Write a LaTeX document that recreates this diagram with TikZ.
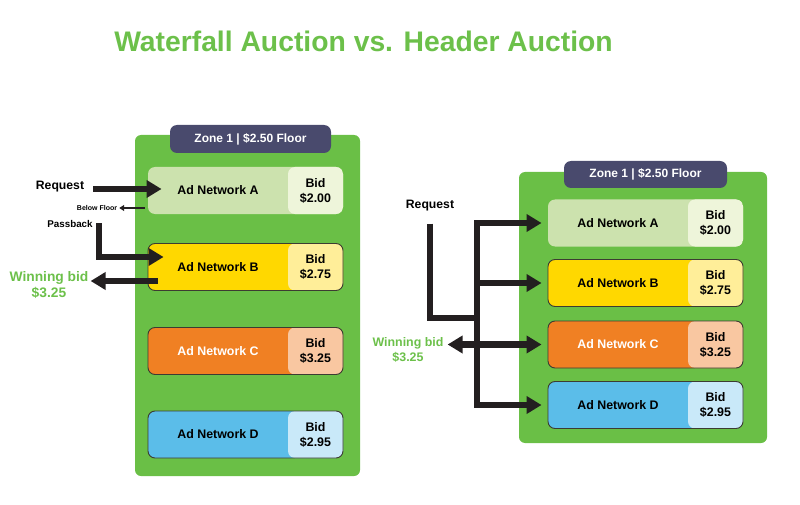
\documentclass[tikz,border=0pt]{standalone}
\usepackage{fontspec}
\setmainfont{Liberation Sans}
\usetikzlibrary{arrows.meta,calc}
\definecolor{ttlgreen}{HTML}{6CC04A}
\definecolor{boxgreen}{HTML}{6ABF46}
\definecolor{navy}{HTML}{494A6D}
\definecolor{aMain}{HTML}{CCE2AE}
\definecolor{aBid}{HTML}{EEF5DA}
\definecolor{bMain}{HTML}{FFD800}
\definecolor{bBid}{HTML}{FFEE99}
\definecolor{cMain}{HTML}{F08023}
\definecolor{cBid}{HTML}{F9C7A1}
\definecolor{dMain}{HTML}{5BBDE9}
\definecolor{dBid}{HTML}{C9E9F9}
\definecolor{ink}{HTML}{231F20}
\definecolor{edgec}{HTML}{3C3C32}
\tikzset{
  container/.style={fill=boxgreen, rounded corners=6pt},
  zonebox/.style={fill=navy, rounded corners=7pt, minimum width=161pt, minimum height=28pt,
    inner sep=0pt, text=white, font=\bfseries\fontsize{12}{14}\selectfont},
  netbox/.style n args={3}{rounded corners=7pt, minimum width=195pt, minimum height=47pt,
    inner sep=0pt, fill=#1, draw=#3, line width=0.9pt,
    path picture={\fill[#2] ([xshift=-55pt]path picture bounding box.north east)
      rectangle (path picture bounding box.south east);}},
  netlbl/.style={inner sep=0pt, font=\bfseries\fontsize{12.4}{15}\selectfont},
  bidlbl/.style={inner sep=0pt, align=center, font=\bfseries\fontsize{12.4}{15}\selectfont},
  sidelbl/.style={inner sep=0pt, font=\bfseries\fontsize{12.2}{15}\selectfont},
  passlbl/.style={inner sep=0pt, font=\bfseries\fontsize{9.8}{12}\selectfont},
  tinylbl/.style={inner sep=0pt, font=\bfseries\fontsize{7}{8}\selectfont},
  winlbl/.style={inner sep=0pt, align=center, text=ttlgreen},
  shaft/.style={draw=ink, line width=6.5pt, line join=miter},
  bigarrow/.style={shaft, -{Triangle[length=15pt,width=17pt]}},
  dblarrow/.style={shaft, {Triangle[length=15pt,width=17pt]}-{Triangle[length=15pt,width=17pt]}},
  smallarrow/.style={draw=ink, line width=2pt, -{Triangle[length=5pt,width=6pt]}},
  titlestyle/.style={inner sep=0pt, text=ttlgreen, font=\bfseries\fontsize{28.3}{34}\selectfont}
}
\begin{document}
\begin{tikzpicture}[x=1pt,y=-1pt]
\useasboundingbox (0,0) rectangle (800,505);
\node[titlestyle, anchor=base] (title) at (363.5,51.5) {Waterfall Auction vs. Header Auction};

% ---------------- Waterfall (left) ----------------
\path[container] (135,135) rectangle (360,476);
\node[zonebox] (zL) at (250.5,139) {Zone 1 | \$2.50 Floor};

\node[netbox={aMain}{aBid}{none}] (LA) at (245.5,190.5) {};
\node[netlbl] (LAt) at ($(LA.center)+(-27.5,0)$) {Ad Network A};
\node[bidlbl] (LAb) at ($(LA.center)+(70,0)$) {Bid\\\$2.00};

\node[netbox={bMain}{bBid}{edgec}] (LB) at (245.5,267) {};
\node[netlbl] (LBt) at ($(LB.center)+(-27.5,0)$) {Ad Network B};
\node[bidlbl] (LBb) at ($(LB.center)+(70,0)$) {Bid\\\$2.75};

\node[netbox={cMain}{cBid}{edgec}] (LC) at (245.5,351) {};
\node[netlbl, text=white] (LCt) at ($(LC.center)+(-27.5,0)$) {Ad Network C};
\node[bidlbl] (LCb) at ($(LC.center)+(70,0)$) {Bid\\\$3.25};

\node[netbox={dMain}{dBid}{edgec}] (LD) at (245.5,434.5) {};
\node[netlbl] (LDt) at ($(LD.center)+(-27.5,0)$) {Ad Network D};
\node[bidlbl] (LDb) at ($(LD.center)+(70,0)$) {Bid\\\$2.95};

\node[sidelbl] (reqL) at (60,187) {Request};
\draw[bigarrow] ($(reqL.east)+(9,2)$) -- ($(LA.west)+(14,-1.5)$);

\node[tinylbl] (bf) at (97,208) {Below Floor};
\draw[smallarrow] ($(LA.west)+(-3,17.5)$) -- ($(bf.east)+(2,0)$);

\node[passlbl] (pb) at (70,224) {Passback};
\draw[bigarrow] ($(pb.east)+(6,-1)$) |- ($(LB.west)+(16,-10)$);

\node[winlbl, font=\bfseries\fontsize{13.8}{16.5}\selectfont] (wL) at (49,285) {Winning bid\\\$3.25};
\draw[bigarrow] ($(LB.west)+(10,14)$) -- ($(wL.east)+(2,-4)$);

% ---------------- Header (right) ----------------
\path[container] (519,172) rectangle (767,443);
\node[zonebox, minimum width=163pt, minimum height=27pt] (zR) at (645.5,174.5) {Zone 1 | \$2.50 Floor};

\node[netbox={aMain}{aBid}{none}] (RA) at (645.5,223) {};
\node[netlbl] (RAt) at ($(RA.center)+(-27.5,0)$) {Ad Network A};
\node[bidlbl] (RAb) at ($(RA.center)+(70,0)$) {Bid\\\$2.00};

\node[netbox={bMain}{bBid}{edgec}] (RB) at (645.5,283) {};
\node[netlbl] (RBt) at ($(RB.center)+(-27.5,0)$) {Ad Network B};
\node[bidlbl] (RBb) at ($(RB.center)+(70,0)$) {Bid\\\$2.75};

\node[netbox={cMain}{cBid}{edgec}] (RC) at (645.5,344.5) {};
\node[netlbl, text=white] (RCt) at ($(RC.center)+(-27.5,0)$) {Ad Network C};
\node[bidlbl] (RCb) at ($(RC.center)+(70,0)$) {Bid\\\$3.25};

\node[netbox={dMain}{dBid}{edgec}] (RD) at (645.5,405) {};
\node[netlbl] (RDt) at ($(RD.center)+(-27.5,0)$) {Ad Network D};
\node[bidlbl] (RDb) at ($(RD.center)+(70,0)$) {Bid\\\$2.95};

\coordinate (tk) at (477,0);
\coordinate (join) at (477,318);
\node[sidelbl] (reqR) at (430,206) {Request};
\draw[shaft] ($(reqR.south)+(0,12)$) |- (join);

\draw[dblarrow] ($(RA.west)+(-6,0)$) -- (tk |- RA.west) -- (tk |- RD.west) -- ($(RD.west)+(-6,0)$);
\draw[bigarrow] (tk |- RB.west) -- ($(RB.west)+(-6,0)$);

\node[winlbl, font=\bfseries\fontsize{12.4}{15}\selectfont] (wR) at (408,350) {Winning bid\\\$3.25};
\draw[dblarrow] ($(wR.east |- RC.west)+(4,0)$) -- ($(RC.west)+(-6,0)$);
\end{tikzpicture}
\end{document}
